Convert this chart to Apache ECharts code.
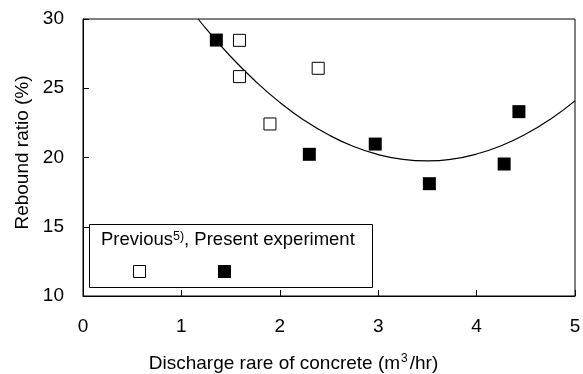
<!DOCTYPE html>
<html>
<head>
<meta charset="utf-8">
<script src="https://cdn.jsdelivr.net/npm/echarts@6/dist/echarts.min.js"></script>
<style>html,body{margin:0;padding:0;background:#fff}#c{width:583px;height:374px}</style>
</head>
<body>
<div id="c"></div>
<script>
const previousX = [1.59, 1.59, 1.90, 2.39];
const previousY = [28.46, 25.84, 22.42, 26.44];
const presentX = [1.355, 2.30, 2.97, 3.52, 4.28, 4.43];
const presentY = [28.48, 20.23, 20.97, 18.11, 19.53, 23.31];
const curveX = [1.17, 1.25, 1.5, 1.75, 2.0, 2.25, 2.5, 2.75, 3.0, 3.25, 3.5, 3.75, 4.0, 4.25, 4.5, 4.75, 5.0];
const curveY = [30.0, 29.31, 27.29, 25.52, 23.98, 22.68, 21.62, 20.79, 20.21, 19.86, 19.75, 19.88, 20.25, 20.85, 21.69, 22.77, 24.09];
const xTicks = [0, 1, 2, 3, 4, 5];
const yTicks = [10, 15, 20, 25, 30];

const zip = (a, b) => a.map((v, i) => [v, b[i]]);
const font = 'Liberation Sans, Arial, sans-serif';
const chart = echarts.init(document.getElementById('c'), null, {renderer: 'canvas'});
chart.setOption({
  animation: false,
  backgroundColor: '#fff',
  grid: {left: 83, right: 8, top: 19, bottom: 78, show: true, borderColor: '#000', borderWidth: 1,
         containLabel: false, outerBoundsMode: 'none'},
  xAxis: {
    type: 'value', min: xTicks[0], max: xTicks[xTicks.length - 1], interval: 1,
    name: 'Discharge rare of concrete (m{sup|3}/hr)', nameLocation: 'middle', nameGap: 57,
    nameTextStyle: {fontFamily: font, fontSize: 19, color: '#000', padding: [0, 71, 0, 0],
      rich: {sup: {fontSize: 12, verticalAlign: 'top', padding: [0, 2, 10, 1], fontFamily: font, color: '#000'}}},
    axisLine: {lineStyle: {color: '#000', width: 1}},
    axisTick: {inside: true, length: 6, lineStyle: {color: '#000'}},
    axisLabel: {fontFamily: font, fontSize: 19, color: '#000', margin: 21},
    splitLine: {show: false}
  },
  yAxis: {
    type: 'value', min: yTicks[0], max: yTicks[yTicks.length - 1], interval: 5,
    name: 'Rebound ratio (%)', nameLocation: 'middle', nameGap: 49,
    nameTextStyle: {fontFamily: font, fontSize: 19, color: '#000', padding: [0, 0, 0, 10]},
    axisLine: {lineStyle: {color: '#000', width: 1}},
    axisTick: {inside: true, length: 6, lineStyle: {color: '#000'}},
    axisLabel: {fontFamily: font, fontSize: 19, color: '#000', margin: 19},
    splitLine: {show: false}
  },
  series: [
    {type: 'line', data: zip(curveX, curveY), smooth: true, symbol: 'none',
     lineStyle: {color: '#000', width: 1.2}, z: 1},
    {type: 'scatter', data: zip(previousX, previousY), symbol: 'rect', symbolSize: 12,
     itemStyle: {color: '#fff', borderColor: '#000', borderWidth: 1, opacity: 1}, z: 3},
    {type: 'scatter', data: zip(presentX, presentY), symbol: 'rect', symbolSize: 13,
     itemStyle: {color: '#000', opacity: 1}, z: 3}
  ],
  graphic: [
    {type: 'rect', left: 89, top: 224, shape: {width: 283, height: 63},
     style: {fill: '#fff', stroke: '#000', lineWidth: 1}, z: 10},
    {type: 'text', left: 101, top: 230, z: 11,
     style: {text: 'Previous{sup|5)}, Present experiment', font: '18.5px ' + font, fill: '#000',
       rich: {sup: {fontSize: 12.5, fontFamily: font, verticalAlign: 'top', padding: [0, 0, 7, 0], fill: '#000'}}}},
    {type: 'rect', left: 133, top: 265, shape: {width: 12, height: 12},
     style: {fill: '#fff', stroke: '#000', lineWidth: 1}, z: 11},
    {type: 'rect', left: 218, top: 265, shape: {width: 13, height: 13},
     style: {fill: '#000'}, z: 11}
  ]
});
</script>
</body>
</html>
